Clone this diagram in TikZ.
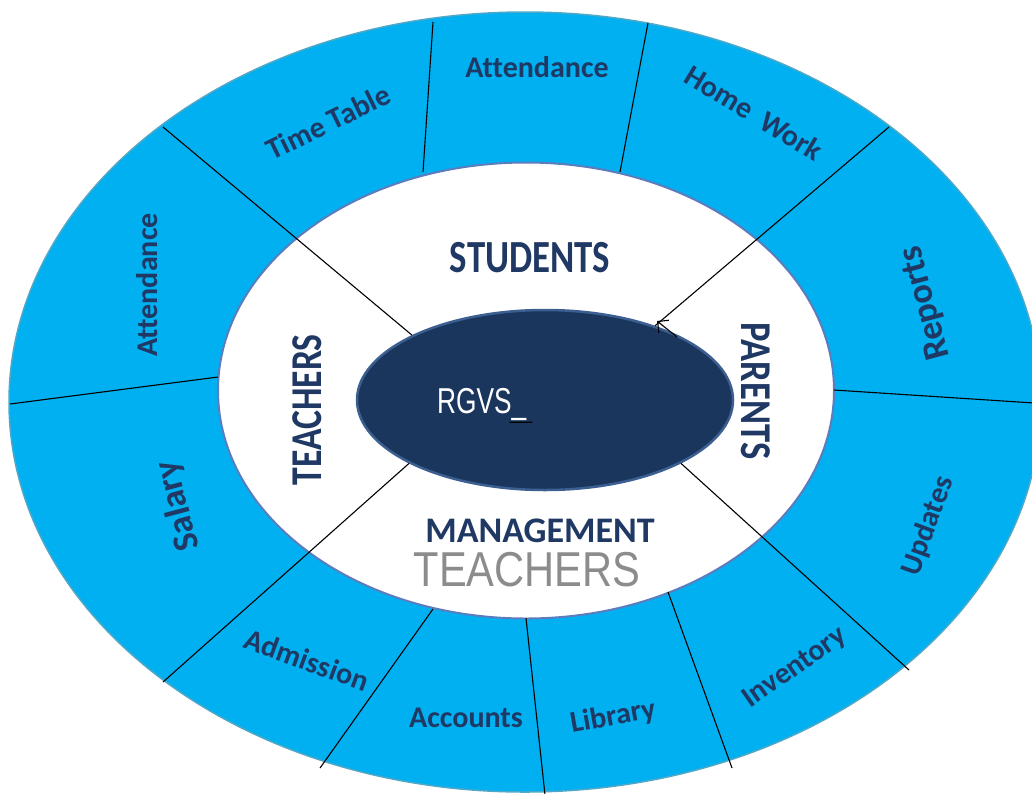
\documentclass[tikz,border=0pt]{standalone}
\usepackage{fontspec}
\setmainfont{Carlito}[Ligatures={NoCommon}]
\newfontfamily\arialf{Liberation Sans}
\usetikzlibrary{arrows.meta,shapes.geometric}
\definecolor{ringblue}{HTML}{00B0F0}
\definecolor{ringedge}{HTML}{4FA8C8}
\definecolor{midedge}{HTML}{5B7DBE}
\definecolor{corefill}{HTML}{1B365D}
\definecolor{coreedge}{HTML}{3C5F91}
\definecolor{navy}{HTML}{1F3864}
\definecolor{greytext}{HTML}{8C8C8C}
\tikzset{
  ringlabel/.style={text=navy, font=\fontsize{30}{30}\selectfont\bfseries, inner sep=0pt},
  biglabel/.style={text=navy, font=\fontsize{36}{36}\selectfont\bfseries, inner sep=0pt},
  grouplabel/.style={text=navy, inner sep=0pt},
  divider/.style={draw=black, line width=1.1pt},
}
\begin{document}
\begin{tikzpicture}[x=1pt,y=-1pt]
\useasboundingbox (0,0) rectangle (1032,793);
\fill[white] (0,0) rectangle (1032,793);
\begin{scope}
\clip (0,0) rectangle (1032,793);
% outer ring
\path[fill=ringblue, draw=ringedge, line width=1.5pt] (525,402) ellipse [x radius=516, y radius=390];
% middle white ellipse
\path[fill=white, draw=midedge, line width=2pt] (526,390.5) ellipse [x radius=308, y radius=228];
% core
\node[ellipse, fill=corefill, draw=coreedge, line width=2.5pt, minimum width=376pt, minimum height=180pt, inner sep=0pt] (core) at (545,400) {};
% coordinates
\coordinate (o1) at (163,127);
\coordinate (o5) at (889,127);
\coordinate (o7) at (909,670);
\coordinate (o11) at (163,682);
\coordinate (m2) at (218,377);  \coordinate (o2) at (10,404);
\coordinate (m3) at (423,172);  \coordinate (o3) at (433,22);
\coordinate (m4) at (620,172);  \coordinate (o4) at (648,23);
\coordinate (m6) at (834,390);  \coordinate (o6) at (1034,403);
\coordinate (m8) at (668,592);  \coordinate (o8) at (732,768);
\coordinate (m9) at (526,618);  \coordinate (o9) at (545,795);
\coordinate (m10) at (433,609); \coordinate (o10) at (320,768);
\coordinate (arrs) at (677,337); \coordinate (arre) at (657,321);
% dividers
\draw[divider] (core.154.65) -- (o1);
\draw[divider] (core.34.7) -- (o5);
\draw[divider] (core.-25) -- (o7);
\draw[divider] (core.205.2) -- (o11);
\draw[divider] (m2) -- (o2);
\draw[divider] (m3) -- (o3);
\draw[divider] (m4) -- (o4);
\draw[divider] (m6) -- (o6);
\draw[divider] (m8) -- (o8);
\draw[divider] (m9) -- (o9);
\draw[divider] (m10) -- (o10);
\draw[line width=1.1pt, -{Straight Barb[length=8pt,width=16pt]}] (arrs) -- (arre);
\end{scope}
% ring labels
\node[ringlabel, rotate=26] (tt) at (328,122) {Time Table};
\node[ringlabel] (att1) at (537,67) {Attendance};
\node[ringlabel, rotate=-31] (hw) at (754,113) {Home\ \ Work};
\node[biglabel, rotate=105] (rep) at (926,303) {Reports};
\node[ringlabel, rotate=90] (att2) at (147,285) {Attendance};
\node[biglabel, rotate=105] (sal) at (178,506) {Salary};
\node[ringlabel, rotate=70] (upd) at (928,526) {Updates};
\node[ringlabel, rotate=35] (inv) at (795,668) {Inventory};
\node[ringlabel, rotate=10] (lib) at (613,717) {Library};
\node[ringlabel] (acc) at (466,718) {Accounts};
\node[ringlabel, rotate=-20] (adm) at (307,660) {Admission};
% group labels
\node[grouplabel] (stu) at (530,258) {\fontsize{46}{46}\selectfont\bfseries\scalebox{0.8}[1]{STUDENTS}};
\node[grouplabel, rotate=90] (tea) at (307,410) {\fontsize{44}{44}\selectfont\bfseries\scalebox{0.81}[1]{TEACHERS}};
\node[grouplabel, rotate=-90] (par) at (756,391) {\fontsize{44}{44}\selectfont\bfseries\scalebox{0.83}[1]{PARENTS}};
\node[grouplabel] (man) at (540,531) {\fontsize{36}{36}\selectfont\bfseries MANAGEMENT};
\node[text=greytext, inner sep=0pt] (tea2) at (527,570) {\arialf\fontsize{49}{49}\selectfont\scalebox{0.85}[1]{TEACHERS}};
% core text
\node[text=white, inner sep=0pt, anchor=base west] (rgvs) at (437,413) {\arialf\fontsize{36}{36}\selectfont\scalebox{0.73}[1]{RGVS\_}};
\node[text=black, inner sep=0pt, anchor=base] (dash) at (521,419) {\arialf\fontsize{20}{20}\selectfont\_\_};
\end{tikzpicture}
\end{document}
